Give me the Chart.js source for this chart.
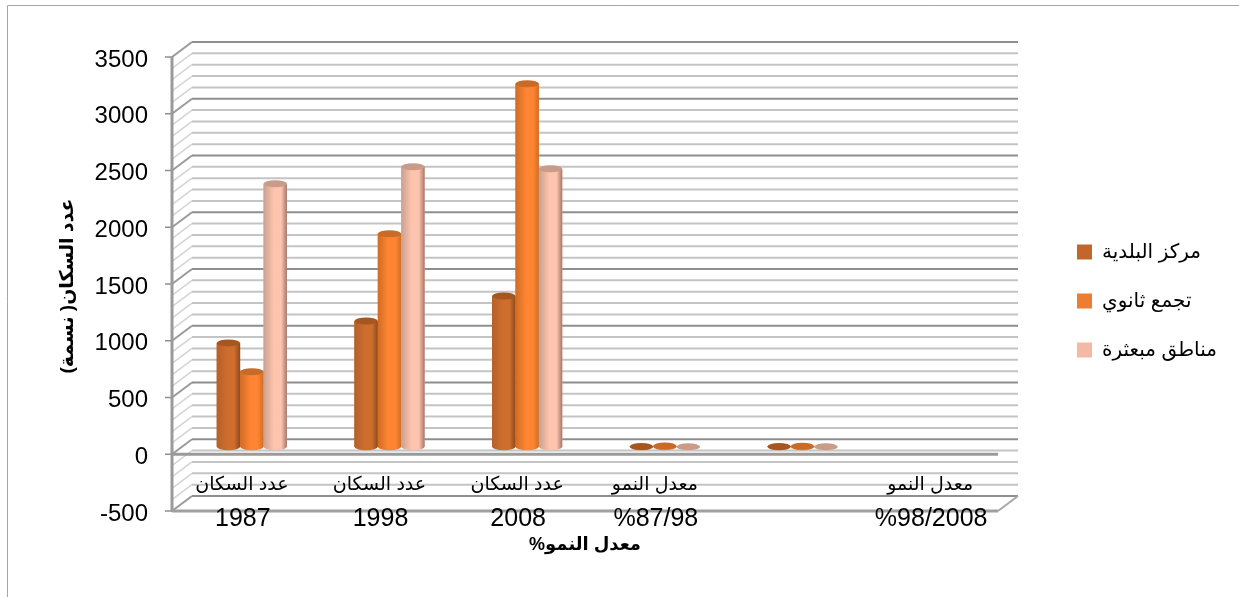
<!DOCTYPE html>
<html>
<head>
<meta charset="utf-8">
<style>
  html, body { margin: 0; padding: 0; background: #fff; }
  #wrap { width: 1239px; height: 597px; }
</style>
<script src="https://cdn.jsdelivr.net/npm/chart.js@4"></script>
</head>
<body>
<div id="wrap"><canvas id="myChart" width="1239" height="597"></canvas></div>
<script>
var categories = ["1987", "1998", "2008", "%87/98", "", "%98/2008"];
var categoryCaptions = ["عدد السكان", "عدد السكان", "عدد السكان", "معدل النمو", "", "معدل النمو"];
var seriesNames = ["مركز البلدية", "تجمع ثانوي", "مناطق مبعثرة"];
var center = [915, 1108, 1329, 2, 2, null];
var secondary = [660, 1876, 3199, 6, 5, null];
var scattered = [2317, 2467, 2449, 1, 1, null];
var yTitle = "عدد السكان( نسمة)\u200F";
var xTitle = "معدل النمو%\u200F";

var legendColors = ["#c3662b", "#ed7d31", "#f4b8a4"];
// left edge, middle, right edge, top cap
var barShades = [
  ["#b5602a", "#cd6d2e", "#8c4a1e", "#a8561f"],
  ["#d06c24", "#ff8533", "#cf6e26", "#c96a27"],
  ["#c9a08f", "#ffc4ae", "#a37a6c", "#c99b89"]
];

var depthX = 11, depthY = 7.5; // the chart scale sits half way into the box
var fontName = '"Liberation Sans", "DejaVu Sans", sans-serif';

function line(ctx, x1, y1, x2, y2, color, width) {
  ctx.strokeStyle = color;
  ctx.lineWidth = width;
  ctx.beginPath();
  ctx.moveTo(x1, y1);
  ctx.lineTo(x2, y2);
  ctx.stroke();
}

var boxPlugin = {
  id: "box",
  afterLayout: function(chart) {
    // legend floats right of the box
    var l = chart.legend;
    var w = l.width, h = l.height;
    l.left = 1048; l.top = 213;
    l.right = l.left + w; l.bottom = l.top + h;
    l.adjustHitBoxes();
  },
  beforeDatasetsDraw: function(chart) {
    var ctx = chart.ctx, y = chart.scales.y, x = chart.scales.x;
    var left = x.left - depthX, right = x.right - depthX;
    ctx.save();
    // outer frame of the picture
    line(ctx, 7.5, 597, 7.5, 5.5, "#a6a6a6", 1);
    line(ctx, 7.5, 5.5, 1239, 5.5, "#a6a6a6", 1);
    // back wall and side wall, light lines first
    for (var v = y.min; v <= y.max; v += 100) {
      if (v % 500 === 0) continue;
      var p = y.getPixelForValue(v);
      line(ctx, left + 20, p - depthY, right + 20, p - depthY, "#c4c4c4", 2);
      line(ctx, left, p + depthY, left + 20, p - depthY, "#d4d4d4", 1.5);
    }
    for (v = y.min; v <= y.max; v += 500) {
      p = y.getPixelForValue(v);
      line(ctx, left + 20, p - depthY, right + 20, p - depthY, "#8e8e8e", 2);
      line(ctx, left, p + depthY, left + 20, p - depthY, "#9a9a9a", 2);
      line(ctx, left - 7, p + depthY, left, p + depthY, "#8e8e8e", 1.5);
    }
    // front edges
    var floor = y.getPixelForValue(y.min), zero = y.getPixelForValue(0);
    line(ctx, left, y.getPixelForValue(y.max) + depthY, left, floor + depthY, "#9a9a9a", 3);
    line(ctx, left, floor + depthY, right, floor + depthY, "#a0a0a0", 3);
    line(ctx, right, floor + depthY, right + 20, floor - depthY, "#a8a8a8", 2);
    line(ctx, left, zero + depthY, right, zero + depthY, "#9a9a9a", 3);
    ctx.restore();
  },
  afterDatasetsDraw: function(chart) {
    var ctx = chart.ctx;
    ctx.save();
    // left to right so that later cylinders overlap earlier ones
    chart.data.datasets.forEach(function(ds, i) {
      var shades = barShades[i];
      chart.getDatasetMeta(i).data.forEach(function(el, j) {
        if (ds.data[j] === null) return;
        var rx = el.width / 2, ry = 3.5;
        var g = ctx.createLinearGradient(el.x - rx, 0, el.x + rx, 0);
        g.addColorStop(0, shades[0]);
        g.addColorStop(0.45, shades[1]);
        g.addColorStop(0.75, shades[1]);
        g.addColorStop(1, shades[2]);
        ctx.fillStyle = g;
        ctx.beginPath();
        ctx.moveTo(el.x - rx, el.y);
        ctx.lineTo(el.x - rx, el.base);
        ctx.ellipse(el.x, el.base, rx, ry, 0, Math.PI, 0, true);
        ctx.lineTo(el.x + rx, el.y);
        ctx.closePath();
        ctx.fill();
        ctx.fillStyle = shades[3];
        ctx.beginPath();
        ctx.ellipse(el.x, el.y, rx, ry, 0, 0, Math.PI * 2);
        ctx.fill();
      });
    });
    ctx.restore();
  },
  afterDraw: function(chart) {
    var ctx = chart.ctx, x = chart.scales.x;
    ctx.save();
    ctx.fillStyle = "#000";
    ctx.textAlign = "center";
    ctx.textBaseline = "middle";
    // arabic first line of each category label
    ctx.font = "19px " + fontName;
    categoryCaptions.forEach(function(text, i) {
      ctx.fillText(text, x.getPixelForTick(i) - 10, 485);
    });
    // axis titles
    ctx.font = "bold 18px " + fontName;
    ctx.fillText(xTitle, 585, 545);
    ctx.font = "bold 19px " + fontName;
    ctx.translate(68, 286);
    ctx.rotate(-Math.PI / 2);
    ctx.fillText(yTitle, 0, 0);
    ctx.restore();
  }
};

var ctx = document.getElementById("myChart").getContext("2d");
var myChart = new Chart(ctx, {
  type: "bar",
  data: {
    labels: categories,
    datasets: [
      { label: seriesNames[0], data: center, backgroundColor: legendColors[0], borderWidth: 0 },
      { label: seriesNames[1], data: secondary, backgroundColor: legendColors[1], borderWidth: 0 },
      { label: seriesNames[2], data: scattered, backgroundColor: legendColors[2], borderWidth: 0 }
    ]
  },
  options: {
    responsive: false,
    animation: false,
    layout: { padding: { top: 49.5, right: 230, left: 0, bottom: 0 } },
    datasets: { bar: { categoryPercentage: 0.51, barPercentage: 1 } },
    scales: {
      x: {
        afterFit: function(s) { s.height = 93.5; },
        grid: { display: false },
        border: { display: false },
        ticks: {
          autoSkip: false, maxRotation: 0, minRotation: 0, z: 1,
          labelOffset: -9, padding: -7, color: "#000",
          font: { family: fontName, size: 25 }
        }
      },
      y: {
        min: -500,
        max: 3500,
        afterFit: function(s) { s.width = 183; },
        grid: { display: false, drawTicks: false },
        border: { display: false },
        ticks: {
          stepSize: 500, padding: 35, labelOffset: 10.5, color: "#000",
          font: { family: fontName, size: 24 },
          callback: function(value) { return String(value); }
        }
      }
    },
    plugins: {
      tooltip: { enabled: false },
      legend: {
        position: "chartArea",
        align: "start",
        labels: {
          boxWidth: 15, boxHeight: 15, padding: 29, color: "#000",
          font: { family: fontName, size: 20 }
        }
      }
    }
  },
  plugins: [boxPlugin]
});
</script>
</body>
</html>
